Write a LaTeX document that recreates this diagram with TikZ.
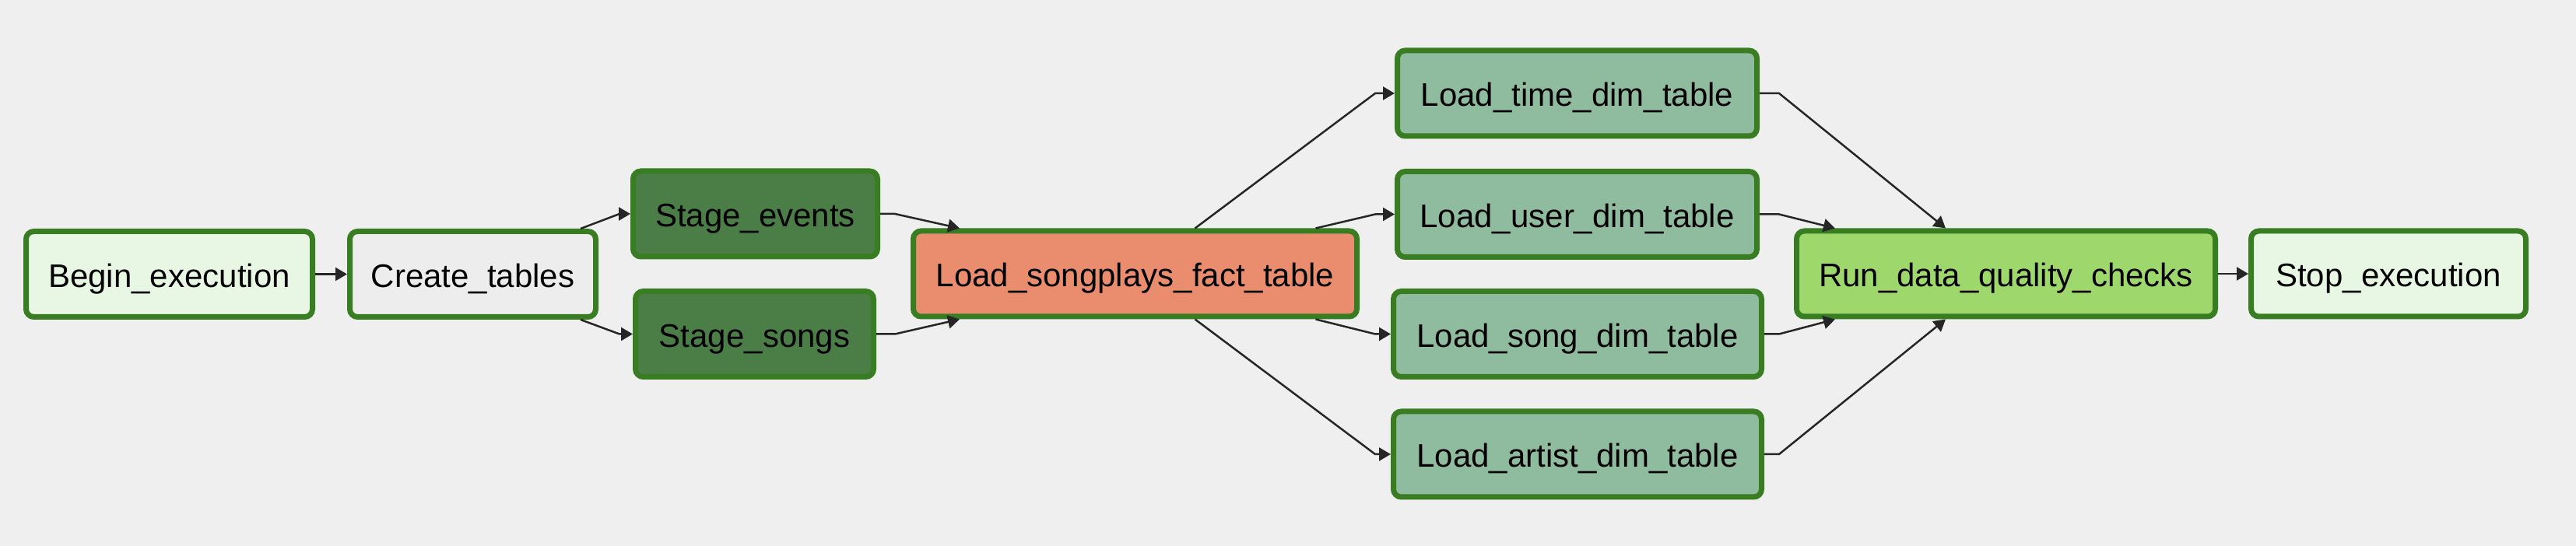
\documentclass[tikz,border=0pt]{standalone}
\usepackage{fontspec}
\setmainfont{Liberation Sans}
\usetikzlibrary{arrows.meta}
\definecolor{pagebg}{HTML}{EFEFEF}
\definecolor{taskedge}{HTML}{387D22}
\definecolor{dummyfill}{HTML}{E8F7E4}
\definecolor{pgfill}{HTML}{EDEDED}
\definecolor{stagefill}{HTML}{4A7E46}
\definecolor{factfill}{HTML}{EA8C6E}
\definecolor{dimfill}{HTML}{8FBB9E}
\definecolor{checkfill}{HTML}{9ED86C}
\tikzset{
  task/.style={draw=taskedge, line width=0.07cm, rounded corners=0.1cm,
    minimum height=1.1cm, outer sep=0.035cm, inner sep=0pt,
    text height=0.34cm, text depth=0pt,
    font=\fontsize{11.95}{14}\selectfont},
  dep/.style={draw=black!85, line width=0.025cm,
    -{Triangle[length=0.15cm,width=0.17cm]}},
}
\begin{document}
\begin{tikzpicture}
  \fill[pagebg] (0,0) rectangle (33.1,-7.02);
  \useasboundingbox (0,0) rectangle (33.1,-7.02);
  % tasks, left to right
  \node[task, fill=dummyfill, minimum width=3.68cm] (begin) at (2.175,-3.525) {Begin\_execution};
  \node[task, fill=pgfill, minimum width=3.16cm] (create) at (6.075,-3.525) {Create\_tables};
  \node[task, fill=stagefill, minimum width=3.14cm] (stevents) at (9.705,-2.75) {Stage\_events};
  \node[task, fill=stagefill, minimum width=3.06cm] (stsongs) at (9.695,-4.295) {Stage\_songs};
  \node[task, fill=factfill, minimum width=5.70cm] (fact) at (14.585,-3.52) {Load\_songplays\_fact\_table};
  \node[task, fill=dimfill, minimum width=4.62cm] (ltime) at (20.265,-1.20) {Load\_time\_dim\_table};
  \node[task, fill=dimfill, minimum width=4.62cm] (luser) at (20.265,-2.755) {Load\_user\_dim\_table};
  \node[task, fill=dimfill, minimum width=4.73cm] (lsong) at (20.27,-4.295) {Load\_song\_dim\_table};
  \node[task, fill=dimfill, minimum width=4.73cm] (lartist) at (20.27,-5.84) {Load\_artist\_dim\_table};
  \node[task, fill=checkfill, minimum width=5.38cm] (checks) at (25.775,-3.52) {Run\_data\_quality\_checks};
  \node[task, fill=dummyfill, minimum width=3.53cm] (stop) at (30.69,-3.52) {Stop\_execution};
  % dependencies
  \draw[dep] (begin) -- (create);
  \draw[dep] ([xshift=-0.23cm]create.north east) -- ([xshift=-0.14cm]stevents.west) -- (stevents.west);
  \draw[dep] ([xshift=-0.23cm]create.south east) -- ([xshift=-0.17cm]stsongs.west) -- (stsongs.west);
  \draw[dep] (stevents.east) -- ++(0.19,0) -- ([xshift=-2.255cm]fact.north);
  \draw[dep] (stsongs.east) -- ++(0.24,0) -- ([xshift=-2.255cm]fact.south);
  \draw[dep] ([xshift=0.77cm]fact.north) -- ([xshift=-0.25cm]ltime.west) -- (ltime.west);
  \draw[dep] ([xshift=2.32cm]fact.north) -- ([xshift=-0.25cm]luser.west) -- (luser.west);
  \draw[dep] ([xshift=2.32cm]fact.south) -- ([xshift=-0.2cm]lsong.west) -- (lsong.west);
  \draw[dep] ([xshift=0.77cm]fact.south) -- ([xshift=-0.2cm]lartist.west) -- (lartist.west);
  \draw[dep] (ltime.east) -- ++(0.25,0) -- ([xshift=-0.775cm]checks.north);
  \draw[dep] (luser.east) -- ++(0.25,0) -- ([xshift=-2.195cm]checks.north);
  \draw[dep] (lsong.east) -- ++(0.19,0) -- ([xshift=-2.195cm]checks.south);
  \draw[dep] (lartist.east) -- ++(0.19,0) -- ([xshift=-0.775cm]checks.south);
  \draw[dep] (checks) -- (stop);
\end{tikzpicture}
\end{document}
